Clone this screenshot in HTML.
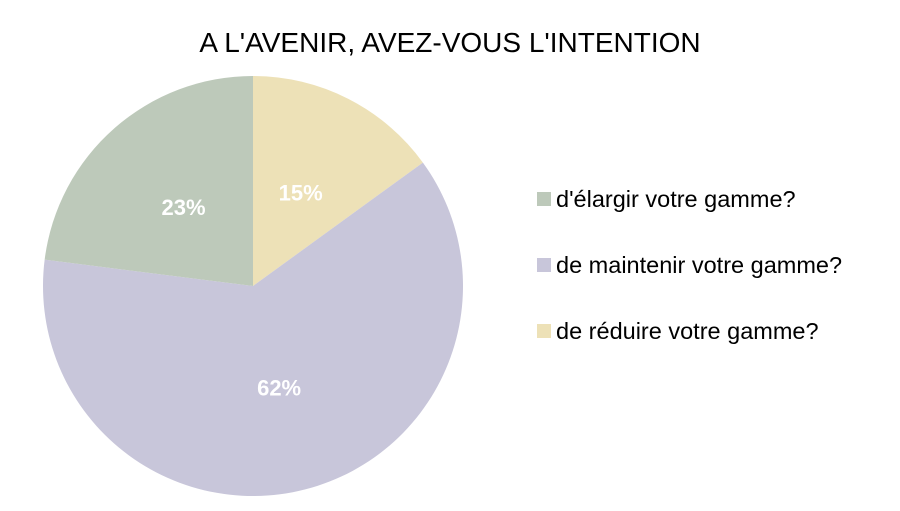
<!DOCTYPE html>
<html><head><meta charset="utf-8"><style>
body{margin:0;background:#fff;width:900px;height:506px;overflow:hidden;font-family:"Liberation Sans",sans-serif}
</style></head><body>
<svg id="chart" width="900" height="506" xmlns="http://www.w3.org/2000/svg">
<text x="450" y="52" text-anchor="middle" font-size="28" fill="#000">A L'AVENIR, AVEZ-VOUS L'INTENTION</text>
<g id="slices"></g><g id="labels"></g><g id="legend"></g>
</svg>
<script>
const categories=["de réduire votre gamme?","de maintenir votre gamme?","d'élargir votre gamme?"];
const values=[15,62,23];
const colors=["#ede1b7","#c8c6da","#bdc9ba"];
const legendOrder=[2,1,0];
const cx=253,cy=286,r=210;
const ns="http://www.w3.org/2000/svg";
const total=values.reduce((a,b)=>a+b,0);
let a0=0;
const sl=document.getElementById('slices'),lb=document.getElementById('labels'),lg=document.getElementById('legend');
function pt(a,rr){return [cx+rr*Math.sin(a),cy-rr*Math.cos(a)];}
values.forEach((v,i)=>{
 const a1=a0+v/total*2*Math.PI;
 const p0=pt(a0,r),p1=pt(a1,r);
 const p=document.createElementNS(ns,'path');
 p.setAttribute('d',`M${cx},${cy}L${p0[0]},${p0[1]}A${r},${r} 0 ${a1-a0>Math.PI?1:0} 1 ${p1[0]},${p1[1]}Z`);
 p.setAttribute('fill',colors[i]);
 
 
 sl.appendChild(p);
 const m=pt((a0+a1)/2,r*0.5);
 const t=document.createElementNS(ns,'text');
 t.setAttribute('x',m[0]);t.setAttribute('y',m[1]+8);
 t.setAttribute('text-anchor','middle');t.setAttribute('font-size','22');
 t.setAttribute('font-weight','bold');t.setAttribute('fill','#fff');
 
 
 t.textContent=v+'%';lb.appendChild(t);
 a0=a1;
});
legendOrder.forEach((i,k)=>{
 const y=199+k*66;
 const s=document.createElementNS(ns,'rect');
 s.setAttribute('x',537);s.setAttribute('y',y-7);s.setAttribute('width',14);s.setAttribute('height',14);
 s.setAttribute('fill',colors[i]);
 
 
 lg.appendChild(s);
 const t=document.createElementNS(ns,'text');
 t.setAttribute('x',556);t.setAttribute('y',y+8);t.setAttribute('font-size','23.5');t.setAttribute('fill','#000');
 
 
 t.textContent=categories[i];lg.appendChild(t);
});
</script>
</body></html>
